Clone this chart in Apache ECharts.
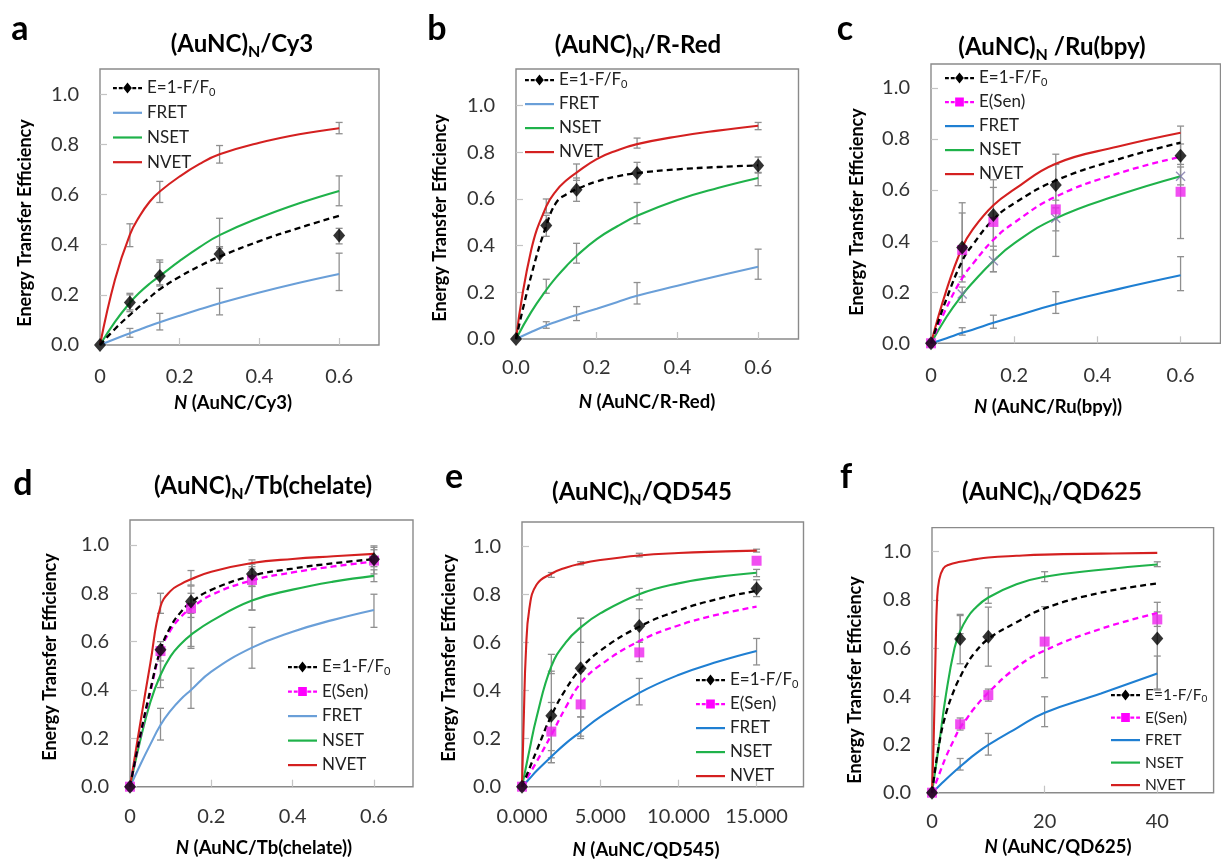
<!DOCTYPE html>
<html><head><meta charset="utf-8">
<script src="https://cdn.jsdelivr.net/npm/echarts@6/dist/echarts.min.js"></script>
<style>html,body{margin:0;padding:0;background:#fff}#c{width:1221px;height:860px}</style>
</head><body><div id="c"></div>
<script>
// ================= DATA =================
const ptX  = [0, 0.075, 0.15, 0.3, 0.6];
const ptXE = [0, 1.875, 3.75, 7.5, 15];
const ptXF = [0, 5, 10, 20, 40];

const yTickLabels = ['0.0', '0.2', '0.4', '0.6', '0.8', '1.0'];
const xTickA = ['0', '0.2', '0.4', '0.6'];
const xTickB = ['0.0', '0.2', '0.4', '0.6'];
const xTickC = ['0', '0.2', '0.4', '0.6'];
const xTickD = ['0', '0.2', '0.4', '0.6'];
const xTickE = ['0.000', '5.000', '10.000', '15.000'];
const xTickF = ['0', '20', '40'];

// ---- panel a : (AuNC)N/Cy3 ----
const curveXA = [0, 0.0375, 0.075, 0.1, 0.125, 0.15, 0.2, 0.25, 0.3, 0.4, 0.5, 0.6];
const fretA = [0, 0.024, 0.047, 0.062, 0.077, 0.091, 0.117, 0.142, 0.166, 0.209, 0.248, 0.283];
const nsetA = [0, 0.092, 0.168, 0.21, 0.245, 0.275, 0.335, 0.39, 0.438, 0.507, 0.565, 0.614];
const nvetA = [0, 0.26, 0.44, 0.515, 0.572, 0.612, 0.672, 0.722, 0.76, 0.806, 0.84, 0.864];
const fitA  = [0, 0.064, 0.12, 0.155, 0.19, 0.222, 0.272, 0.315, 0.352, 0.414, 0.467, 0.515];
const ptA   = [0, 0.169, 0.275, 0.363, 0.436];
const errA_pt   = [[0.133, 0.206], [0.235, 0.339], [0.326, 0.392], [0.403, 0.465]];
const errA_fret = [[0.031, 0.066], [0.06, 0.126], [0.12, 0.226], [0.217, 0.366]];
const errA_nset = [[0.14, 0.2], [0.24, 0.33], [0.386, 0.505], [0.555, 0.674]];
const errA_nvet = [[0.392, 0.483], [0.568, 0.652], [0.725, 0.795], [0.842, 0.887]];

// ---- panel b : (AuNC)N/R-Red ----
const curveXB = [0, 0.0375, 0.075, 0.1, 0.125, 0.15, 0.2, 0.25, 0.3, 0.4, 0.5, 0.6];
const fretB = [0, 0.03, 0.058, 0.074, 0.089, 0.103, 0.13, 0.158, 0.185, 0.228, 0.27, 0.31];
const nsetB = [0, 0.115, 0.21, 0.265, 0.313, 0.356, 0.428, 0.482, 0.528, 0.596, 0.647, 0.69];
const nvetB = [0, 0.38, 0.568, 0.636, 0.68, 0.713, 0.771, 0.808, 0.835, 0.868, 0.893, 0.914];
const fitB  = [0, 0.27, 0.486, 0.585, 0.62, 0.642, 0.675, 0.697, 0.711, 0.727, 0.737, 0.744];
const ptB   = [0, 0.486, 0.64, 0.711, 0.744];
const errB_pt   = [[0.44, 0.53], [0.59, 0.69], [0.664, 0.757], [0.711, 0.78]];
const errB_fret = [[0.046, 0.074], [0.079, 0.139], [0.15, 0.242], [0.256, 0.385]];
const errB_nset = [[0.196, 0.256], [0.325, 0.41], [0.494, 0.585], [0.657, 0.714]];
const errB_nvet = [[0.54, 0.6], [0.68, 0.75], [0.818, 0.861], [0.897, 0.928]];

// ---- panel c : (AuNC)N /Ru(bpy) ----
const curveXC = [0, 0.0375, 0.075, 0.1, 0.15, 0.2, 0.3, 0.45, 0.6];
const fretC = [0, 0.02, 0.041, 0.053, 0.08, 0.105, 0.153, 0.212, 0.266];
const nsetC = [0, 0.104, 0.189, 0.237, 0.322, 0.391, 0.489, 0.58, 0.654];
const nvetC = [0, 0.21, 0.375, 0.445, 0.54, 0.602, 0.703, 0.77, 0.824];
const fitC  = [0, 0.175, 0.322, 0.385, 0.485, 0.548, 0.637, 0.72, 0.785];
const senFitC = [0, 0.14, 0.255, 0.31, 0.405, 0.472, 0.574, 0.665, 0.73];
const ptC   = [0, 0.375, 0.502, 0.619, 0.734];
const senC  = [0, 0.365, 0.475, 0.524, 0.593];
const crossC = [null, 0.193, 0.323, 0.489, 0.654];
const errC_pt   = [[0.26, 0.55], [0.38, 0.64], [0.56, 0.74], [0.70, 0.85]];
const errC_sen  = [[0.24, 0.51], [0.28, 0.61], [0.34, 0.70], [0.41, 0.78]];
const errC_x    = [[0.16, 0.22], [0.28, 0.365], [0.44, 0.53], [0.62, 0.69]];
const errC_fret = [[0.032, 0.061], [0.059, 0.11], [0.117, 0.202], [0.206, 0.339]];

// ---- panel d : (AuNC)N/Tb(chelate) ----
const curveXD = [0, 0.025, 0.05, 0.075, 0.1, 0.125, 0.15, 0.2, 0.3, 0.4, 0.5, 0.6];
const fretD = [0, 0.09, 0.175, 0.255, 0.315, 0.362, 0.4, 0.476, 0.575, 0.641, 0.69, 0.731];
const nsetD = [0, 0.19, 0.35, 0.462, 0.54, 0.59, 0.628, 0.685, 0.77, 0.815, 0.848, 0.872];
const nvetD = [0, 0.26, 0.51, 0.745, 0.81, 0.838, 0.858, 0.889, 0.925, 0.942, 0.953, 0.963];
const fitD  = [0, 0.21, 0.4, 0.566, 0.662, 0.722, 0.763, 0.814, 0.872, 0.902, 0.924, 0.941];
const senFitD = [0, 0.205, 0.39, 0.561, 0.648, 0.702, 0.738, 0.793, 0.853, 0.886, 0.911, 0.931];
const ptD   = [0, 0.566, 0.766, 0.88, 0.941];
const senD  = [0, 0.561, 0.738, 0.855, 0.935];
const errD_pt   = [[0.52, 0.6], [0.7, 0.83], [0.83, 0.92], [0.91, 0.98]];
const errD_sen  = [[0.41, 0.55], [0.58, 0.8], [0.73, 0.9], [0.88, 0.99]];
const errD_fret = [[0.193, 0.324], [0.324, 0.49], [0.49, 0.659], [0.659, 0.796]];
const errD_nset = [[0.441, 0.552], [0.572, 0.717], [0.731, 0.828], [0.848, 0.897]];
const errD_nvet = [[0.717, 0.8], [0.834, 0.894], [0.91, 0.938], [0.952, 0.996]];

// ---- panel e : (AuNC)N/QD545 ----
const curveXE = [0, 0.47, 0.9375, 1.875, 2.8, 3.75, 5, 7.5, 10, 12.5, 15];
const fretE = [0, 0.033, 0.066, 0.125, 0.18, 0.228, 0.29, 0.39, 0.464, 0.519, 0.564];
const nsetE = [0, 0.15, 0.29, 0.5, 0.6, 0.662, 0.72, 0.8, 0.845, 0.872, 0.889];
const nvetXE = [0, 0.12, 0.25, 0.47, 0.9375, 1.875, 2.8, 3.75, 5, 7.5, 10, 12.5, 15];
const nvetE = [0, 0.3, 0.56, 0.74, 0.84, 0.885, 0.91, 0.927, 0.942, 0.961, 0.971, 0.977, 0.981];
const fitE  = [0, 0.075, 0.15, 0.295, 0.405, 0.49, 0.565, 0.665, 0.732, 0.78, 0.814];
const senFitE = [0, 0.052, 0.104, 0.215, 0.33, 0.43, 0.505, 0.605, 0.67, 0.715, 0.748];
const ptE   = [0, 0.295, 0.492, 0.668, 0.824];
const senE  = [0, 0.229, 0.342, 0.558, 0.939];
const errE_pt   = [[0.1, 0.48], [0.29, 0.7], [0.6, 0.74], [0.79, 0.86]];
const errE_sen  = [[0.12, 0.35], [0.21, 0.48], [0.52, 0.6], null];
const errE_fret = [[0.1, 0.15], [0.2, 0.29], [0.34, 0.45], [0.506, 0.616]];
const errE_nset = [[0.47, 0.55], [0.6, 0.7], [0.776, 0.824], [0.873, 0.903]];
const errE_nvet = [[0.87, 0.89], [0.922, 0.935], [0.955, 0.97], [0.975, 0.987]];

// ---- panel f : (AuNC)N/QD625 ----
const curveXF = [0, 1.25, 2.5, 4, 5, 6.25, 7.5, 10, 15, 20, 30, 40];
const fretF = [0, 0.028, 0.056, 0.088, 0.108, 0.133, 0.157, 0.198, 0.267, 0.332, 0.412, 0.495];
const nsetF = [0, 0.2, 0.41, 0.6, 0.67, 0.725, 0.762, 0.81, 0.865, 0.896, 0.925, 0.947];
const nvetXF = [0, 0.3, 0.65, 0.9, 1.25, 2, 3, 5, 7.5, 10, 15, 20, 30, 40];
const nvetF = [0, 0.22, 0.6, 0.8, 0.88, 0.93, 0.946, 0.958, 0.968, 0.976, 0.983, 0.988, 0.992, 0.995];
const fitF  = [0, 0.2, 0.33, 0.43, 0.48, 0.535, 0.578, 0.638, 0.707, 0.765, 0.83, 0.868];
const senFitF = [0, 0.075, 0.15, 0.225, 0.27, 0.31, 0.35, 0.415, 0.52, 0.59, 0.68, 0.745];
const ptF   = [0, 0.638, 0.647, null, 0.64];
const senF  = [0, 0.284, 0.405, 0.627, 0.719];
const errF_pt   = [[0.535, 0.735], [0.525, 0.77], null, [0.43, 0.79]];
const errF_sen  = [[0.26, 0.31], [0.38, 0.43], [0.477, 0.772], [0.69, 0.75]];
const errF_fret = [[0.094, 0.142], [0.156, 0.246], [0.274, 0.398], [0.426, 0.567]];
const errF_nset = [[0.66, 0.74], [0.786, 0.85], [0.876, 0.917], [0.938, 0.958]];

// ================= STYLE / LAYOUT =================
const FONT = 'Lato';
const C_FRET_L = '#6a9fd8', C_FRET_D = '#1f7fd2', C_NSET = '#1fb24a', C_NVET = '#d42020';
const C_MAG = '#ff00ff', C_ERR = '#8f8f8f';
const iconLine = 'path://M0 0M30 12M0 5h30v2.2h-30z';
const iconE = 'path://M0 0M30 12M0 5h4v2.2h-4zM6 5h4v2.2h-4zM20 5h4v2.2h-4zM26 5h4v2.2h-4zM15 0.5L19.5 6L15 11.5L10.5 6z';
const iconSen = 'path://M0 0M30 12M0 5h4v2.2h-4zM6 5h4v2.2h-4zM20 5h4v2.2h-4zM26 5h4v2.2h-4zM10.5 1.5h9v9h-9z';
const crossSym = 'path://M0 0L10 10M10 0L0 10';

const panels = [
  { key: 'a', grid: {left: 100, top: 69, width: 279, height: 276}, xMax: 0.7, xInt: 0.2, yMax: 1.1,
    xTicks: xTickA, xm: 22, fretColor: C_FRET_L, px: ptX,
    curveX: curveXA, fret: fretA, nset: nsetA, nvetX: curveXA, nvet: nvetA, fit: fitA, senFit: null,
    pt: ptA, sen: null, cross: null,
    errs: [errA_fret, errA_nset, errA_nvet, errA_pt],
    legend: {left: 113, top: 78.5, gap: 5.7, fs: 17},
    letter: {t: 'a', x: 20, y: 29}, title: {a: '(AuNC)', b: '/Cy3', x: 242, y: 44},
    yName: {x: 25, y: 223}, xName: {t: ' (AuNC/Cy3)', x: 233, y: 403} },
  { key: 'b', grid: {left: 516, top: 69, width: 282.5, height: 270}, xMax: 0.7, xInt: 0.2, yMax: 1.157,
    xTicks: xTickB, xm: 19, fretColor: C_FRET_L, px: ptX,
    curveX: curveXB, fret: fretB, nset: nsetB, nvetX: curveXB, nvet: nvetB, fit: fitB, senFit: null,
    pt: ptB, sen: null, cross: null,
    errs: [errB_fret, errB_nset, errB_nvet, errB_pt],
    legend: {left: 525, top: 70.5, gap: 5, fs: 17},
    letter: {t: 'b', x: 437, y: 29}, title: {a: '(AuNC)', b: '/R-Red', x: 638, y: 45.5},
    yName: {x: 440, y: 218}, xName: {t: ' (AuNC/R-Red)', x: 647, y: 402} },
  { key: 'c', grid: {left: 931, top: 64, width: 289.5, height: 279.3}, xMax: 0.696, xInt: 0.2, yMax: 1.093,
    xTicks: xTickC, xm: 22, fretColor: C_FRET_D, px: ptX,
    curveX: curveXC, fret: fretC, nset: nsetC, nvetX: curveXC, nvet: nvetC, fit: fitC, senFit: senFitC,
    pt: ptC, sen: senC, cross: crossC,
    errs: [errC_fret, errC_x, errC_sen, errC_pt],
    legend: {left: 945, top: 68.5, gap: 5, fs: 17},
    letter: {t: 'c', x: 845, y: 29}, title: {a: '(AuNC)', b: ' /Ru(bpy)', x: 1052, y: 47},
    yName: {x: 857, y: 212}, xName: {t: ' (AuNC/Ru(bpy))', x: 1048, y: 407} },
  { key: 'd', grid: {left: 130, top: 520, width: 283, height: 266.7}, xMax: 0.696, xInt: 0.2, yMax: 1.103,
    xTicks: xTickD, xm: 20, fretColor: C_FRET_L, px: ptX,
    curveX: curveXD, fret: fretD, nset: nsetD, nvetX: curveXD, nvet: nvetD, fit: fitD, senFit: senFitD,
    pt: ptD, sen: senD, cross: null,
    errs: [errD_fret, errD_nset, errD_nvet, errD_sen, errD_pt],
    legend: {left: 288, top: 657.5, gap: 5.5, fs: 17},
    letter: {t: 'd', x: 23, y: 484}, title: {a: '(AuNC)', b: '/Tb(chelate)', x: 263, y: 486},
    yName: {x: 50, y: 657}, xName: {t: ' (AuNC/Tb(chelate))', x: 264, y: 848} },
  { key: 'e', grid: {left: 522, top: 522, width: 281.5, height: 264.7}, xMax: 18, xInt: 5, yMax: 1.1,
    xTicks: xTickE, xm: 20, fretColor: C_FRET_D, px: ptXE,
    curveX: curveXE, fret: fretE, nset: nsetE, nvetX: nvetXE, nvet: nvetE, fit: fitE, senFit: senFitE,
    pt: ptE, sen: senE, cross: null,
    errs: [errE_fret, errE_nset, errE_nvet, errE_sen, errE_pt],
    legend: {left: 696, top: 670.5, gap: 5, fs: 17},
    letter: {t: 'e', x: 454, y: 477}, title: {a: '(AuNC)', b: '/QD545', x: 642, y: 492},
    yName: {x: 449, y: 658}, xName: {t: ' (AuNC/QD545)', x: 646, y: 850} },
  { key: 'f', grid: {left: 932, top: 527.6, width: 281.6, height: 265.1}, xMax: 50, xInt: 20, yMax: 1.1,
    xTicks: xTickF, xm: 19, fretColor: C_FRET_D, px: ptXF,
    curveX: curveXF, fret: fretF, nset: nsetF, nvetX: nvetXF, nvet: nvetF, fit: fitF, senFit: senFitF,
    pt: ptF, sen: senF, cross: null,
    errs: [errF_fret, errF_nset, errF_sen, errF_pt],
    legend: {left: 1111, top: 685.5, gap: 3.5, fs: 15.5},
    letter: {t: 'f', x: 846, y: 477}, title: {a: '(AuNC)', b: '/QD625', x: 1052, y: 492},
    yName: {x: 855, y: 680}, xName: {t: ' (AuNC/QD625)', x: 1058, y: 847} }
];

function pairs(xs, ys) {
  const out = [];
  xs.forEach((x, i) => { if (ys[i] !== null && ys[i] !== undefined) out.push([x, ys[i]]); });
  return out;
}
function errData(xs, errs) {
  const out = [];
  errs.forEach(list => list.forEach((e, i) => { if (e) out.push([xs[i + 1], e[0], e[1]]); }));
  return out;
}

const grids = [], xAxes = [], yAxes = [], series = [], legends = [], graphics = [];

panels.forEach((p, i) => {
  grids.push(Object.assign({show: true, borderColor: '#8a8a8a', borderWidth: 1.4, backgroundColor: 'transparent'}, p.grid));
  xAxes.push({
    type: 'value', gridIndex: i, min: 0, max: p.xMax, interval: p.xInt,
    axisLine: {show: false}, splitLine: {show: false},
    axisTick: {show: true, inside: true, length: 7, lineStyle: {color: '#c4c4c4', width: 1.2}},
    axisLabel: {margin: p.xm, color: '#333', fontFamily: FONT, fontSize: 20, showMaxLabel: false,
      formatter: v => { const t = p.xTicks[Math.round(v / p.xInt)]; return t === undefined ? '' : t; }}
  });
  yAxes.push({
    type: 'value', gridIndex: i, min: 0, max: p.yMax, interval: 0.2,
    axisLine: {show: false}, splitLine: {show: false},
    axisTick: {show: true, inside: true, length: 7, lineStyle: {color: '#c4c4c4', width: 1.2}},
    axisLabel: {margin: 21, color: '#333', fontFamily: FONT, fontSize: 20, showMaxLabel: false,
      formatter: v => { const t = yTickLabels[Math.round(v / 0.2)]; return t === undefined ? '' : t; }}
  });

  const base = {xAxisIndex: i, yAxisIndex: i, silent: true, animation: false};
  series.push(Object.assign({
    type: 'custom', z: 2, data: errData(p.px, p.errs), encode: {x: 0, y: [1, 2]},
    renderItem: (params, api) => {
      const x = api.value(0), lo = api.value(1), hi = api.value(2);
      const a = api.coord([x, lo]), b = api.coord([x, hi]);
      const w = 3.5, st = {stroke: C_ERR, lineWidth: 1.3};
      return {type: 'group', children: [
        {type: 'line', shape: {x1: a[0], y1: a[1], x2: b[0], y2: b[1]}, style: st},
        {type: 'line', shape: {x1: a[0] - w, y1: a[1], x2: a[0] + w, y2: a[1]}, style: st},
        {type: 'line', shape: {x1: b[0] - w, y1: b[1], x2: b[0] + w, y2: b[1]}, style: st}
      ]};
    }
  }, base));

  const lineS = (name, xs, ys, color, dashed) => Object.assign({
    type: 'line', name: p.key + ':' + name, data: pairs(xs, ys), smooth: 0.45,
    symbol: 'none', showSymbol: false, z: 3,
    lineStyle: {color: color, width: dashed ? 2.3 : 2.1, type: dashed ? [6, 4] : 'solid'},
    itemStyle: {color: color}
  }, base);

  series.push(lineS('FRET', p.curveX, p.fret, p.fretColor, false));
  series.push(lineS('NSET', p.curveX, p.nset, C_NSET, false));
  series.push(lineS('NVET', p.nvetX, p.nvet, C_NVET, false));
  if (p.senFit) series.push(lineS('E(Sen)', p.curveX, p.senFit, C_MAG, true));
  series.push(lineS('E=1-F/F0', p.curveX, p.fit, '#000', true));

  if (p.cross) series.push(Object.assign({
    type: 'scatter', data: pairs(p.px, p.cross), symbol: crossSym, symbolSize: 9, z: 4,
    itemStyle: {color: 'transparent', borderColor: '#7c74a8', borderWidth: 1.4}
  }, base));
  if (p.sen) series.push(Object.assign({
    type: 'scatter', data: pairs(p.px, p.sen), symbol: 'rect', symbolSize: 10, z: 5,
    itemStyle: {color: '#ee22ee'}
  }, base));
  series.push(Object.assign({
    type: 'scatter', data: pairs(p.px, p.pt), symbol: 'diamond', symbolSize: [12, 14], z: 6,
    itemStyle: {color: '#000'}
  }, base));

  const items = [{name: p.key + ':E=1-F/F0', icon: iconE}];
  if (p.senFit) items.push({name: p.key + ':E(Sen)', icon: iconSen});
  ['FRET', 'NSET', 'NVET'].forEach(n => items.push({name: p.key + ':' + n, icon: iconLine}));
  legends.push({
    data: items, orient: 'vertical', left: p.legend.left, top: p.legend.top, padding: 0,
    itemGap: p.legend.gap, itemWidth: 29, itemHeight: 12, selectedMode: false, symbolKeepAspect: false,
    itemStyle: {borderWidth: 0},
    formatter: n => { const t = n.split(':')[1]; return t === 'E=1-F/F0' ? 'E=1-F/F{s|0}' : t; },
    textStyle: {fontFamily: FONT, fontSize: p.legend.fs, color: '#222', lineHeight: 19,
      rich: {s: {fontFamily: FONT, fontSize: p.legend.fs * 0.65, color: '#222', lineHeight: 11, padding: [8, 0, 0, 0]}}}
  });

  graphics.push({type: 'text', x: p.letter.x, y: p.letter.y, silent: true,
    style: {text: p.letter.t, fontFamily: FONT, fontWeight: 'bold', fontSize: 34, fill: '#000', align: 'center', verticalAlign: 'middle'}});
  graphics.push({type: 'text', x: p.title.x, y: p.title.y, silent: true,
    style: {text: '{m|' + p.title.a + '}{s|N}{m|' + p.title.b + '}', align: 'center', verticalAlign: 'middle',
      rich: {m: {fontFamily: FONT, fontWeight: 'bold', fontSize: 24, lineHeight: 28, fill: '#000'},
             s: {fontFamily: FONT, fontWeight: 'bold', fontSize: 16, lineHeight: 16, padding: [15, 0, 0, 0], fill: '#000'}}}});
  graphics.push({type: 'text', x: p.yName.x, y: p.yName.y, rotation: Math.PI / 2, silent: true,
    style: {text: 'Energy Transfer Efficiency', fontFamily: FONT, fontWeight: 'bold', fontSize: 18, fill: '#000', align: 'center', verticalAlign: 'middle'}});
  graphics.push({type: 'text', x: p.xName.x, y: p.xName.y, silent: true,
    style: {text: '{i|N}{r|' + p.xName.t + '}', align: 'center', verticalAlign: 'middle',
      rich: {i: {fontFamily: FONT, fontWeight: 'bold', fontStyle: 'italic', fontSize: 18.5, fill: '#000'},
             r: {fontFamily: FONT, fontWeight: 'bold', fontSize: 18.5, fill: '#000'}}}});
});

const chart = echarts.init(document.getElementById('c'), null, {renderer: 'canvas'});
chart.setOption({
  animation: false, backgroundColor: '#fff',
  grid: grids, xAxis: xAxes, yAxis: yAxes, series: series, legend: legends, graphic: graphics
});
</script></body></html>
